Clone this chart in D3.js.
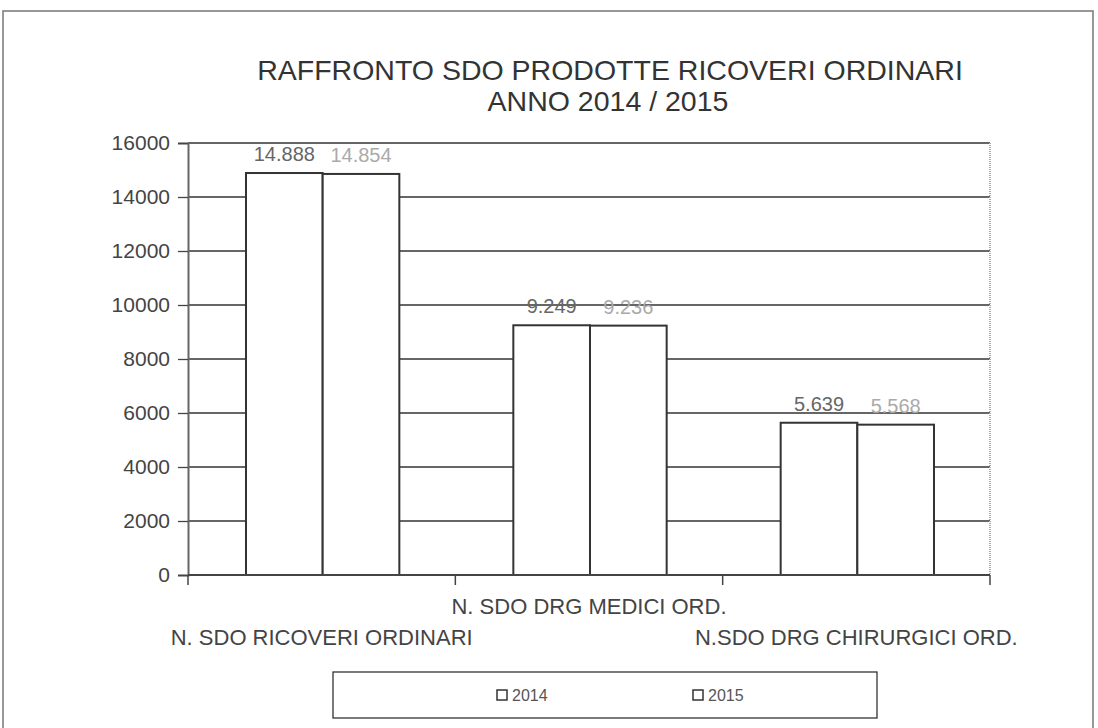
<!DOCTYPE html>
<html>
<head>
<meta charset="utf-8">
<script src="https://cdn.jsdelivr.net/npm/d3@7"></script>
<style>
  body { margin: 0; background: #fff; }
  text { font-family: "Liberation Sans", Arial, sans-serif; }
</style>
</head>
<body>
<script>
// data
const categories = ["N. SDO RICOVERI ORDINARI", "N. SDO DRG MEDICI ORD.", "N.SDO DRG CHIRURGICI ORD."];
const years = ["2014", "2015"];
const values2014 = [14888, 9249, 5639];
const values2015 = [14854, 9236, 5568];
const yTicks = [0, 2000, 4000, 6000, 8000, 10000, 12000, 14000, 16000];

const width = 1098, height = 728;
const margin = { top: 143, right: 108, bottom: 153, left: 188 };
const innerWidth = width - margin.left - margin.right;
const innerHeight = height - margin.top - margin.bottom;

const fmt = v => d3.format(",")(v).replace(/,/g, ".");

const svg = d3.select("body").append("svg")
  .attr("width", width)
  .attr("height", height);

// outer frame (bottom edge is outside the picture)
svg.append("path")
  .attr("d", "M3,728 V11 H1093 V728")
  .attr("fill", "none").attr("stroke", "#777").attr("stroke-width", 1.5);

// title
const title = svg.append("text")
  .attr("x", 610).attr("y", 80)
  .attr("text-anchor", "middle")
  .attr("font-size", 28.5).attr("fill", "#333");
title.append("tspan").attr("x", 610).text("RAFFRONTO SDO PRODOTTE RICOVERI ORDINARI");
title.append("tspan").attr("x", 608).attr("dy", 31).text("ANNO 2014 / 2015");

const g = svg.append("g")
  .attr("transform", "translate(" + margin.left + "," + margin.top + ")");

const x0 = d3.scaleBand().domain(categories).range([0, innerWidth]);
const x1 = d3.scaleBand().domain(years).range([58, x0.bandwidth() - 56]);
const y = d3.scaleLinear().domain([0, 16000]).range([innerHeight, 0]);

// gridlines
g.append("g").selectAll("line")
  .data(yTicks.filter(d => d > 0))
  .enter().append("line")
  .attr("x1", 0).attr("x2", innerWidth)
  .attr("y1", d => y(d)).attr("y2", d => y(d))
  .attr("stroke", "#333").attr("stroke-width", 1.3);

// right frame of the plot
g.append("line")
  .attr("x1", innerWidth).attr("x2", innerWidth)
  .attr("y1", 0).attr("y2", innerHeight)
  .attr("stroke", "#aaa").attr("stroke-width", 2).attr("stroke-dasharray", "1,1");

// y axis
const yAxis = g.append("g")
  .call(d3.axisLeft(y).tickValues(yTicks).tickSize(10).tickPadding(8).tickFormat(d3.format("d")));
yAxis.select(".domain").attr("stroke", "#666").attr("stroke-width", 2);
yAxis.selectAll(".tick line").attr("stroke", "#444").attr("stroke-width", 1.3);
yAxis.selectAll(".tick text")
  .attr("font-size", 21).attr("fill", "#444")
  .attr("font-family", "Liberation Sans, Arial, sans-serif");

// bars
const rows = categories.map((c, i) => ({ cat: c, vals: [values2014[i], values2015[i]] }));
const groups = g.append("g").selectAll("g")
  .data(rows)
  .enter().append("g")
  .attr("transform", d => "translate(" + x0(d.cat) + ",0)");

groups.selectAll("rect")
  .data(d => d.vals.map((v, j) => ({ year: years[j], v: v })))
  .enter().append("rect")
  .attr("x", d => x1(d.year))
  .attr("y", d => y(d.v))
  .attr("width", x1.bandwidth())
  .attr("height", d => innerHeight - y(d.v))
  .attr("fill", "#fff")
  .attr("stroke", "#333").attr("stroke-width", 2);

groups.selectAll("text")
  .data(d => d.vals.map((v, j) => ({ year: years[j], v: v })))
  .enter().append("text")
  .attr("x", d => x1(d.year) + x1.bandwidth() / 2)
  .attr("y", d => y(d.v) - 12)
  .attr("text-anchor", "middle")
  .attr("font-size", 20)
  .attr("fill", d => d.year === "2014" ? "#666" : "#aaa")
  .text(d => fmt(d.v));

// x axis
const xAxis = g.append("g")
  .attr("transform", "translate(0," + innerHeight + ")");
xAxis.append("line")
  .attr("x1", 0).attr("x2", innerWidth)
  .attr("stroke", "#444").attr("stroke-width", 2);
xAxis.selectAll(".tk")
  .data(d3.range(categories.length + 1))
  .enter().append("line")
  .attr("class", "tk")
  .attr("x1", i => i * x0.bandwidth()).attr("x2", i => i * x0.bandwidth())
  .attr("y1", 0).attr("y2", 10)
  .attr("stroke", "#444").attr("stroke-width", 1.5);
xAxis.selectAll("text")
  .data(categories)
  .enter().append("text")
  .attr("x", d => x0(d) + x0.bandwidth() / 2)
  .attr("y", (d, i) => i % 2 === 1 ? 39 : 70)
  .attr("text-anchor", "middle")
  .attr("font-size", 22).attr("fill", "#444")
  .text(d => d);

// legend
const legend = svg.append("g");
legend.append("rect")
  .attr("x", 333).attr("y", 672)
  .attr("width", 544).attr("height", 46)
  .attr("fill", "#fff").attr("stroke", "#333").attr("stroke-width", 1.3);
const items = legend.selectAll("g")
  .data(years)
  .enter().append("g")
  .attr("transform", (d, i) => "translate(" + (497 + i * 196) + ",690)");
items.append("rect")
  .attr("width", 10).attr("height", 10)
  .attr("fill", "#fff").attr("stroke", "#333").attr("stroke-width", 1.5);
items.append("text")
  .attr("x", 15).attr("y", 11)
  .attr("font-size", 16).attr("fill", "#555")
  .text(d => d);
</script>
</body>
</html>
